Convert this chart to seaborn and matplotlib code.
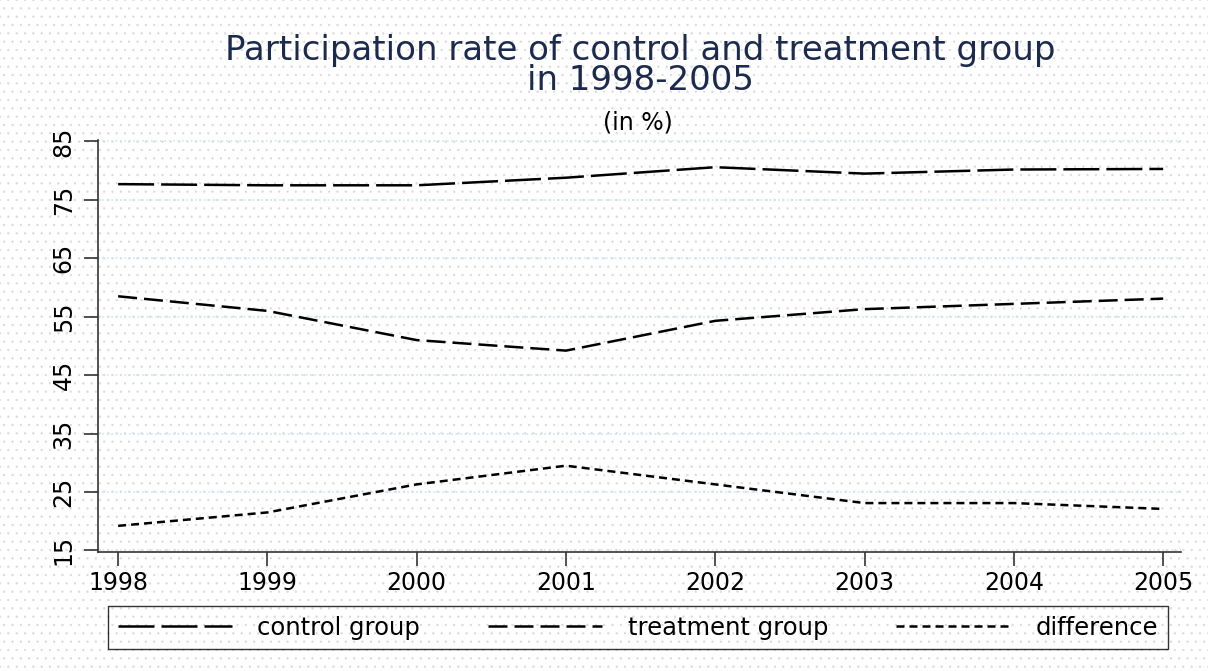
import matplotlib.pyplot as plt
import matplotlib.patches as mpatches
import seaborn as sns
import pandas as pd

# values
years = [1998, 1999, 2000, 2001, 2002, 2003, 2004, 2005]
control = [77.7, 77.5, 77.5, 78.8, 80.6, 79.5, 80.2, 80.3]
treatment = [58.5, 56.0, 51.0, 49.2, 54.3, 56.3, 57.2, 58.1]
difference = [19.2, 21.5, 26.3, 29.5, 26.3, 23.1, 23.1, 22.1]
group_names = ['control group', 'treatment group', 'difference']
yticks = [15, 25, 35, 45, 55, 65, 75, 85]

df = pd.DataFrame({
    'year': years * 3,
    'rate': control + treatment + difference,
    'group': [group_names[0]] * 8 + [group_names[1]] * 8 + [group_names[2]] * 8,
})

sns.set_style('white')
plt.rcParams['font.family'] = ['DejaVu Sans']
plt.rcParams['hatch.linewidth'] = 0.4

fig = plt.figure(figsize=(12.08, 6.71), dpi=100)
fig.patch.set_facecolor('white')

# dotted background like the stata scheme
bg = mpatches.Rectangle((0, 0), 1, 1, transform=fig.transFigure, facecolor='white',
                        edgecolor='#d9d9d9', hatch='..', linewidth=0, zorder=-10)
fig.patches.append(bg)

ax = fig.add_axes([0.0811, 0.1773, 0.8966, 0.6141])
ax.patch.set_alpha(0)

dash_styles = {
    'control group': (14.4, 2.8),
    'treatment group': (7.6, 2.8),
    'difference': (3.2, 2.0),
}
sns.lineplot(data=df, x='year', y='rate', style='group', dashes=dash_styles,
             color='black', linewidth=1.8, ax=ax, legend=True)

ax.set_xlim(1997.865, 2005.12)
ax.set_ylim(14.72, 85.26)
ax.set_xticks(years)
ax.set_yticks(yticks)
ax.set_xticklabels([str(y) for y in years], fontsize=17)
ax.set_yticklabels([str(t) for t in yticks], fontsize=17, rotation=90, va='center')
ax.tick_params(axis='both', direction='out', length=10, width=1.2, color='#333333',
               labelcolor='black', bottom=True, left=True)
ax.tick_params(axis='x', pad=4)
ax.tick_params(axis='y', pad=6)
ax.set_xlabel('')
ax.set_ylabel('')

for t in yticks:
    ax.axhline(t, color='#cfe6ee', linestyle=':', linewidth=1.2, zorder=0)

for s in ['top', 'right']:
    ax.spines[s].set_visible(False)
for s in ['left', 'bottom']:
    ax.spines[s].set_color('#333333')
    ax.spines[s].set_linewidth(1.2)

# legend at bottom in a box
handles, labels = ax.get_legend_handles_labels()
leg = ax.legend(handles, labels, loc='upper left', ncol=3, mode='expand',
                bbox_to_anchor=(0.0092, -0.131, 0.9788, 0),
                fontsize=17.5, handlelength=4.7, handletextpad=1.05,
                frameon=True, fancybox=False, edgecolor='black', borderpad=0.4,
                borderaxespad=0, labelcolor='black')
leg.get_frame().set_facecolor('none')
leg.get_frame().set_linewidth(1.0)

fig.text(0.530, 0.925, 'Participation rate of control and treatment group',
         ha='center', va='center', fontsize=24.5, color='#1c2b4d')
fig.text(0.530, 0.880, 'in 1998-2005',
         ha='center', va='center', fontsize=24.5, color='#1c2b4d')
fig.text(0.528, 0.818, '(in %)', ha='center', va='center', fontsize=17, color='black')

plt.savefig('out.png', dpi=100)
